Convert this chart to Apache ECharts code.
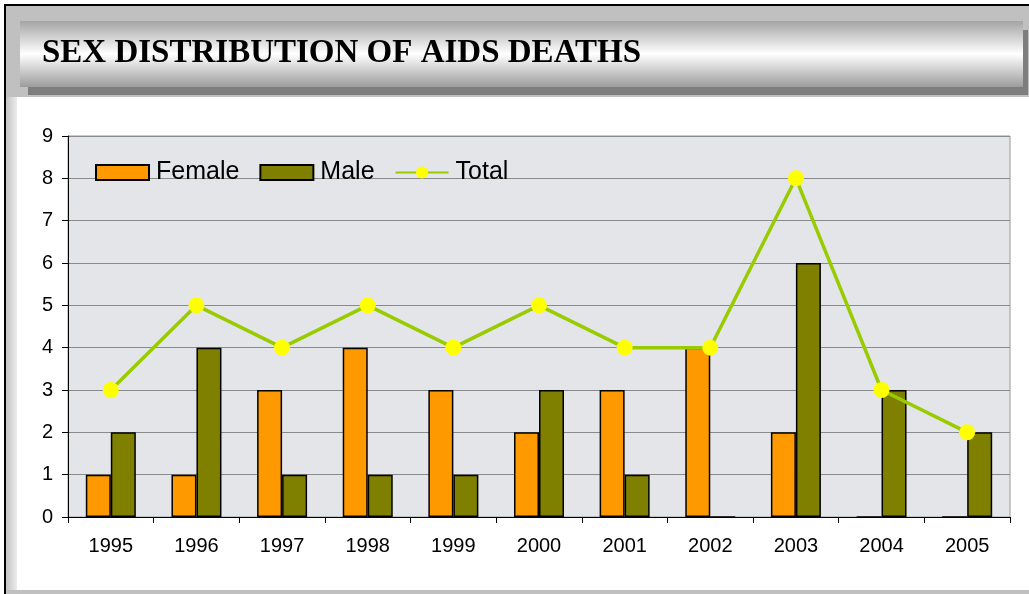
<!DOCTYPE html>
<html>
<head>
<meta charset="utf-8">
<script src="https://cdn.jsdelivr.net/npm/echarts@6/dist/echarts.min.js"></script>
<style>
  html, body { margin: 0; padding: 0; background: #fff; }
  #chart { width: 1029px; height: 594px; }
</style>
</head>
<body>
<div id="chart"></div>
<script>
// data
var years = ['1995', '1996', '1997', '1998', '1999', '2000', '2001', '2002', '2003', '2004', '2005'];
var female = [1, 1, 3, 4, 3, 2, 3, 4, 2, 0, 0];
var male = [2, 4, 1, 1, 1, 3, 1, 0, 6, 3, 2];
var total = [3, 5, 4, 5, 4, 5, 4, 4, 8, 3, 2];

var chart = echarts.init(document.getElementById('chart'));

chart.setOption({
  backgroundColor: '#fff',
  animation: false,
  textStyle: { fontFamily: 'Liberation Sans, Arial, sans-serif' },
  graphic: [
    // frame
    { type: 'rect', z: -10, shape: { x: 4, y: 4, width: 1025, height: 590 }, style: { fill: '#000' } },
    { type: 'rect', z: -9, shape: { x: 6, y: 6, width: 1023, height: 588 }, style: { fill: '#c0c0c0' } },
    {
      type: 'rect', z: -9, shape: { x: 6, y: 97, width: 11, height: 493 },
      style: { fill: new echarts.graphic.LinearGradient(0, 0, 1, 0, [
        { offset: 0, color: '#c4c4c4' }, { offset: 1, color: '#ececec' }
      ]) }
    },
    { type: 'rect', z: -8, shape: { x: 17, y: 97, width: 1012, height: 493 }, style: { fill: '#fff' } },
    // title bar shadow
    { type: 'rect', z: -8, shape: { x: 28, y: 87, width: 1000, height: 8 }, style: { fill: '#7e7e7e' } },
    { type: 'rect', z: -8, shape: { x: 1022, y: 30, width: 6, height: 65 }, style: { fill: '#7e7e7e' } },
    // title bar
    {
      type: 'rect', z: -7, shape: { x: 20, y: 21, width: 1003, height: 66 },
      style: { fill: new echarts.graphic.LinearGradient(0, 0, 0, 1, [
        { offset: 0, color: '#a4a4a4' },
        { offset: 0.5, color: '#ffffff' },
        { offset: 1, color: '#9c9c9c' }
      ]) }
    }
  ],
  title: {
    text: 'SEX DISTRIBUTION OF AIDS DEATHS',
    left: 37,
    top: 32,
    textStyle: {
      fontFamily: 'Liberation Serif, Times New Roman, serif',
      fontWeight: 'bold',
      fontSize: 33,
      color: '#000'
    }
  },
  legend: {
    left: 95,
    top: 160,
    padding: 0,
    itemWidth: 53,
    itemHeight: 15,
    itemGap: 20,
    textStyle: { fontSize: 25, color: '#000', padding: [0, 0, 0, 2] },
    data: [
      { name: 'Female', icon: 'rect' },
      { name: 'Male', icon: 'rect' },
      { name: 'Total' }
    ]
  },
  grid: {
    left: 68,
    right: 19,
    top: 136,
    bottom: 77,
    show: true,
    backgroundColor: '#e3e5e8',
    borderColor: '#999',
    borderWidth: 1
  },
  xAxis: {
    type: 'category',
    data: years,
    axisLine: { lineStyle: { color: '#000', width: 1 } },
    axisTick: { show: true, length: 6, lineStyle: { color: '#000' } },
    axisLabel: { fontSize: 20, color: '#000', margin: 19 }
  },
  yAxis: {
    type: 'value',
    min: 0,
    max: 9,
    interval: 1,
    axisLine: { show: true, lineStyle: { color: '#000', width: 1 } },
    axisTick: { show: true, length: 6, lineStyle: { color: '#000' } },
    axisLabel: { fontSize: 20, color: '#000', margin: 15 },
    splitLine: { lineStyle: { color: '#8a8a8a', width: 1 } }
  },
  series: [
    {
      name: 'Female',
      type: 'bar',
      data: female,
      barWidth: 25,
      barGap: '0%',
      itemStyle: { color: '#ff9900', borderColor: '#000', borderWidth: 1.5 }
    },
    {
      name: 'Male',
      type: 'bar',
      data: male,
      barWidth: 25,
      barGap: '0%',
      itemStyle: { color: '#808000', borderColor: '#000', borderWidth: 1.5 }
    },
    {
      name: 'Total',
      type: 'line',
      data: total,
      symbol: 'circle',
      symbolSize: 16,
      lineStyle: { color: '#99cc00', width: 3.5 },
      itemStyle: { color: '#ffff00', borderWidth: 0 },
      z: 5
    }
  ]
});
</script>
</body>
</html>
